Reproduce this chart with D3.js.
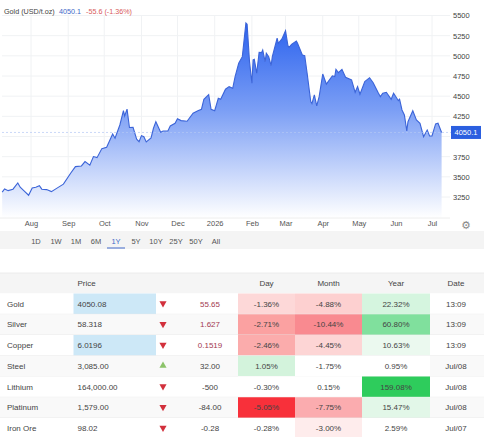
<!DOCTYPE html>
<html>
<head>
<meta charset="utf-8">
<script src="https://cdn.jsdelivr.net/npm/d3@7"></script>
<style>
  html, body { margin: 0; padding: 0; background: #fff; overflow: hidden; }
  text { font-family: "Liberation Sans", Arial, sans-serif; }
</style>
</head>
<body>
<div id="chart-section"></div>
<script>
// gold price
const goldDates = ["2025-07-08","2025-07-10","2025-07-13","2025-07-17","2025-07-21","2025-07-23","2025-07-26","2025-07-30",
  "2025-08-02","2025-08-05","2025-08-08","2025-08-10","2025-08-14","2025-08-18","2025-08-23","2025-08-28",
  "2025-09-03","2025-09-07","2025-09-12","2025-09-15","2025-09-19","2025-09-22","2025-09-25","2025-09-29",
  "2025-10-03","2025-10-08","2025-10-10","2025-10-14","2025-10-17","2025-10-18","2025-10-20","2025-10-22","2025-10-25","2025-10-28","2025-10-30",
  "2025-11-01","2025-11-03","2025-11-05","2025-11-09","2025-11-11","2025-11-13","2025-11-17","2025-11-19","2025-11-23","2025-11-25","2025-11-29",
  "2025-12-01","2025-12-04","2025-12-09","2025-12-14","2025-12-18","2025-12-21","2025-12-23","2025-12-27","2025-12-29",
  "2026-01-01","2026-01-04","2026-01-06","2026-01-10","2026-01-13","2026-01-16","2026-01-18","2026-01-21","2026-01-24","2026-01-27","2026-01-28","2026-01-30",
  "2026-02-01","2026-02-02","2026-02-03","2026-02-05","2026-02-07","2026-02-09","2026-02-10","2026-02-12","2026-02-13","2026-02-15","2026-02-17","2026-02-18","2026-02-22","2026-02-23","2026-02-26",
  "2026-03-01","2026-03-03","2026-03-04","2026-03-06","2026-03-10","2026-03-11","2026-03-15","2026-03-17","2026-03-19","2026-03-22","2026-03-23","2026-03-25","2026-03-27","2026-03-29",
  "2026-04-01","2026-04-04","2026-04-09","2026-04-11","2026-04-12","2026-04-14","2026-04-17","2026-04-20","2026-04-25","2026-04-28","2026-04-30",
  "2026-05-02","2026-05-06","2026-05-10","2026-05-13","2026-05-17","2026-05-19","2026-05-21","2026-05-24","2026-05-28","2026-05-30",
  "2026-06-03","2026-06-04","2026-06-06","2026-06-08","2026-06-10","2026-06-11","2026-06-15","2026-06-18","2026-06-21","2026-06-24","2026-06-27","2026-06-29",
  "2026-07-01","2026-07-04","2026-07-06","2026-07-09"];
const goldPrices = [3310,3350,3329,3347,3425,3371,3329,3272,
  3363,3371,3391,3347,3342,3317,3363,3409,
  3545,3627,3635,3689,3644,3751,3738,3850,
  3867,4032,3979,4143,4320,4255,4339,4112,4115,3966,3936,
  4011,3998,3933,3982,4102,4184,4053,4069,4069,4131,4164,
  4221,4197,4189,4288,4320,4338,4462,4519,4338,
  4320,4474,4462,4586,4618,4598,4742,4908,4990,5407,5391,4928,
  4660,4949,4957,4784,5044,5040,5073,4928,5032,4990,4878,4990,5218,5156,5209,
  5312,5126,5106,5143,5184,5156,5011,5002,4784,4432,4407,4515,4379,4494,
  4775,4651,4750,4742,4833,4791,4833,4734,4701,4548,4618,
  4524,4680,4729,4667,4548,4494,4536,4548,4462,4536,
  4444,4462,4329,4267,4069,4184,4320,4205,4164,3998,4081,4007,
  4007,4156,4164,4050.1];

const yTicks = [3250,3500,3750,4250,4500,4750,5000,5250,5500];
const monthTicks = ["2025-08-01","2025-09-01","2025-10-01","2025-11-01","2025-12-01","2026-01-01","2026-02-01","2026-03-01","2026-04-01","2026-05-01","2026-06-01","2026-07-01"];
const ranges = ["1D","1W","1M","6M","1Y","5Y","10Y","25Y","50Y","All"];

// table columns
const metals = ["Gold","Silver","Copper","Steel","Lithium","Platinum","Iron Ore"];
const prices = ["4050.08","58.318","6.0196","3,085.00","164,000.00","1,579.00","98.02"];
const flashed = ["Gold","Copper"];
const moves = ["down","down","down","up","down","down","down"];
const changes = ["55.65","1.627","0.1519","32.00","-500","-84.00","-0.28"];
const dayPct = [-1.36,-2.71,-2.46,1.05,-0.30,-5.05,-0.28];
const monthPct = [-4.88,-10.44,-4.45,-1.75,0.15,-7.75,-3.00];
const yearPct = [22.32,60.80,10.63,0.95,159.08,15.47,2.59];
const updated = ["13:09","13:09","13:09","Jul/08","Jul/08","Jul/08","Jul/07"];

const width = 484, height = 437;
const textColor = "#444";
const parseDate = d3.utcParse("%Y-%m-%d");
const data = goldDates.map((d, i) => ({ date: parseDate(d), value: goldPrices[i] }));
const last = data[data.length - 1];

const svg = d3.select("#chart-section").append("svg")
    .attr("width", width)
    .attr("height", height)
    .style("display", "block");

const x = d3.scaleUtc().domain([parseDate("2025-08-01"), parseDate("2026-07-01")]).range([31, 432]);
const y = d3.scaleLinear().domain([3250, 5500]).range([197, 15.5]);
const plotBottom = 218, plotLeft = 2, plotRight = 450;

const grad = svg.append("defs").append("linearGradient")
    .attr("id", "goldFill")
    .attr("gradientUnits", "userSpaceOnUse")
    .attr("x1", 0).attr("x2", 0)
    .attr("y1", y(5407)).attr("y2", plotBottom);
grad.append("stop").attr("offset", "0%").attr("stop-color", "#2b62ee");
grad.append("stop").attr("offset", "45%").attr("stop-color", "#7c9ff5");
grad.append("stop").attr("offset", "100%").attr("stop-color", "#ffffff");

// grid
svg.append("g").selectAll("line").data(yTicks.concat([4000])).enter().append("line")
    .attr("x1", plotLeft).attr("x2", plotRight)
    .attr("y1", d => y(d)).attr("y2", d => y(d))
    .attr("stroke", "#f0f2f4");
svg.append("g").selectAll("line").data(monthTicks).enter().append("line")
    .attr("x1", d => x(parseDate(d))).attr("x2", d => x(parseDate(d)))
    .attr("y1", 15).attr("y2", plotBottom)
    .attr("stroke", "#f0f2f4");

// area + line
const area = d3.area().x(d => x(d.date)).y0(plotBottom).y1(d => y(d.value));
const line = d3.line().x(d => x(d.date)).y(d => y(d.value));
svg.append("path").datum(data).attr("d", area).attr("fill", "url(#goldFill)");
svg.append("path").datum(data).attr("d", line)
    .attr("fill", "none").attr("stroke", "#3b64d8").attr("stroke-width", 1.1);

// last price marker
svg.append("line")
    .attr("x1", plotLeft).attr("x2", 451)
    .attr("y1", y(last.value)).attr("y2", y(last.value))
    .attr("stroke", "#b4c8f5").attr("stroke-width", 0.7).attr("stroke-dasharray", "2,2");

// x axis strip
svg.append("rect").attr("x", 0).attr("y", plotBottom).attr("width", plotRight).attr("height", 13).attr("fill", "#fff");
svg.append("line").attr("x1", 0).attr("x2", plotRight).attr("y1", plotBottom).attr("y2", plotBottom).attr("stroke", "#eeeeee");

const xAxis = d3.axisBottom(x)
    .tickValues(monthTicks.map(parseDate))
    .tickSize(0)
    .tickPadding(0)
    .tickFormat(d => d.getUTCMonth() === 0 ? d3.utcFormat("%Y")(d) : d3.utcFormat("%b")(d));
const gx = svg.append("g").attr("transform", "translate(0," + 221 + ")").call(xAxis);
gx.select(".domain").remove();
gx.selectAll("text").attr("font-size", "7.5px").attr("fill", "#555").style("font-family", "Liberation Sans");

const yAxis = d3.axisRight(y).tickValues(yTicks).tickSize(0).tickPadding(0).tickFormat(d3.format("d"));
const gy = svg.append("g").attr("transform", "translate(453,0)").call(yAxis);
gy.select(".domain").remove();
gy.selectAll("text").attr("font-size", "7.5px").attr("fill", "#444").style("font-family", "Liberation Sans");

svg.append("rect")
    .attr("x", 451).attr("y", y(last.value) - 6.5)
    .attr("width", 30).attr("height", 13)
    .attr("fill", "#2b5fe0");
svg.append("text")
    .attr("x", 466).attr("y", y(last.value) + 2.8)
    .attr("text-anchor", "middle")
    .attr("font-size", "7.5px").attr("fill", "#fff")
    .text(last.value);

// heading
const title = svg.append("text").attr("x", 4).attr("y", 13.5).attr("font-size", "7.2px");
title.append("tspan").attr("fill", "#444").text("Gold (USD/t.oz)");
title.append("tspan").attr("x", 59).attr("fill", "#4169c8").text("4050.1");
title.append("tspan").attr("x", 86).attr("fill", "#d85a5a").text("-55.6 (-1.36%)");

// range selector
svg.append("rect").attr("x", 0).attr("y", 231).attr("width", width).attr("height", 18).attr("fill", "#f4f4f4");
const rangeX = d3.scalePoint().domain(ranges).range([36, 216]);
svg.append("g").selectAll("text").data(ranges).enter().append("text")
    .attr("x", d => rangeX(d))
    .attr("y", 244)
    .attr("text-anchor", "middle")
    .attr("font-size", "7.5px")
    .attr("fill", d => d === "1Y" ? "#4169c8" : "#555")
    .text(d => d);
svg.append("line")
    .attr("x1", rangeX("1Y") - 9).attr("x2", rangeX("1Y") + 9)
    .attr("y1", 248).attr("y2", 248)
    .attr("stroke", "#4169c8").attr("stroke-width", 1);

svg.append("text")
    .attr("x", 466).attr("y", 229)
    .attr("text-anchor", "middle")
    .attr("font-size", "11px").attr("fill", "#888")
    .style("font-family", "DejaVu Sans")
    .text("\u2699");

// table
const rowY = d3.scaleBand().domain(metals).range([293.5, 438.75]);
const columns = { price: [73.5, 156], day: [238, 295], month: [295, 362], year: [362, 430], date: [430, 484] };
const mid = c => (c[0] + c[1]) / 2;

const dayColor = d3.scaleLinear()
    .domain([-5.05, -2.6, -0.4, 0.4, 1.05])
    .range(["#f8303a", "#fba6a6", "#ffffff", "#ffffff", "#d3f3dc"]).clamp(true);
const monthColor = d3.scaleLinear()
    .domain([-10.44, -4.6, -1.75])
    .range(["#f98a90", "#fdd3d3", "#ffffff"]).clamp(true);
const yearColor = d3.scaleLinear()
    .domain([2.59, 10.63, 22.32, 60.8, 159.08])
    .range(["#ffffff", "#ebf9ef", "#d5f5df", "#80e09d", "#2ecc5c"]).clamp(true);

svg.append("rect").attr("x", 0).attr("y", 273).attr("width", width).attr("height", 20.5).attr("fill", "#f5f5f5");
svg.append("line").attr("x1", 0).attr("x2", width).attr("y1", 273).attr("y2", 273).attr("stroke", "#ececec");

const header = [["Price", 77.5, "start"], ["Day", mid(columns.day), "middle"], ["Month", mid(columns.month), "middle"],
  ["Year", mid(columns.year), "middle"], ["Date", 456, "middle"]];
svg.append("g").selectAll("text").data(header).enter().append("text")
    .attr("x", d => d[1])
    .attr("y", 286)
    .attr("text-anchor", d => d[2])
    .attr("font-size", "8px").attr("fill", textColor)
    .text(d => d[0]);

const rows = svg.append("g").selectAll("g").data(metals).enter().append("g")
    .attr("transform", d => "translate(0," + rowY(d) + ")");
const rowH = rowY.bandwidth();

rows.append("rect")
    .attr("width", width).attr("height", rowH)
    .attr("fill", (d, i) => i % 2 ? "#f9f9f9" : "#ffffff");
rows.filter(d => flashed.includes(d)).append("rect")
    .attr("x", columns.price[0]).attr("width", columns.price[1] - columns.price[0]).attr("height", rowH)
    .attr("fill", "#cde8f7");

function heatCell(key, values, color) {
    rows.append("rect")
        .attr("x", columns[key][0])
        .attr("width", columns[key][1] - columns[key][0])
        .attr("height", rowH)
        .attr("fill", (d, i) => color(values[i]));
    rows.append("text")
        .attr("x", mid(columns[key]))
        .attr("y", rowH / 2 + 2.8)
        .attr("text-anchor", "middle")
        .attr("font-size", "8px").attr("fill", textColor)
        .text((d, i) => values[i].toFixed(2) + "%");
}
heatCell("day", dayPct, dayColor);
heatCell("month", monthPct, monthColor);
heatCell("year", yearPct, yearColor);

rows.append("line")
    .attr("x1", 0).attr("x2", width)
    .attr("y1", rowH).attr("y2", rowH)
    .attr("stroke", "#e9e9e9").attr("stroke-width", 0.8);

rows.append("text").attr("x", 7).attr("y", rowH / 2 + 2.8)
    .attr("font-size", "8px").attr("fill", textColor).text(d => d);
rows.append("text").attr("x", 77.5).attr("y", rowH / 2 + 2.8)
    .attr("font-size", "8px").attr("fill", textColor).text((d, i) => prices[i]);

const triangle = d3.symbol().type(d3.symbolTriangle).size(22);
rows.append("path")
    .attr("d", triangle)
    .attr("transform", (d, i) => "translate(163," + (rowH / 2 - 0.5) + ")" + (moves[i] === "down" ? " rotate(180)" : ""))
    .attr("fill", (d, i) => moves[i] === "down" ? "#d2303c" : "#8cc36a");

rows.append("text").attr("x", 210).attr("y", rowH / 2 + 2.8)
    .attr("text-anchor", "middle")
    .attr("font-size", "8px")
    .attr("fill", (d, i) => moves[i] === "down" && !changes[i].startsWith("-") ? "#a33a50" : textColor)
    .text((d, i) => changes[i]);

rows.append("text").attr("x", 456).attr("y", rowH / 2 + 2.8)
    .attr("text-anchor", "middle")
    .attr("font-size", "8px").attr("fill", textColor)
    .text((d, i) => updated[i]);
</script>
</body>
</html>
